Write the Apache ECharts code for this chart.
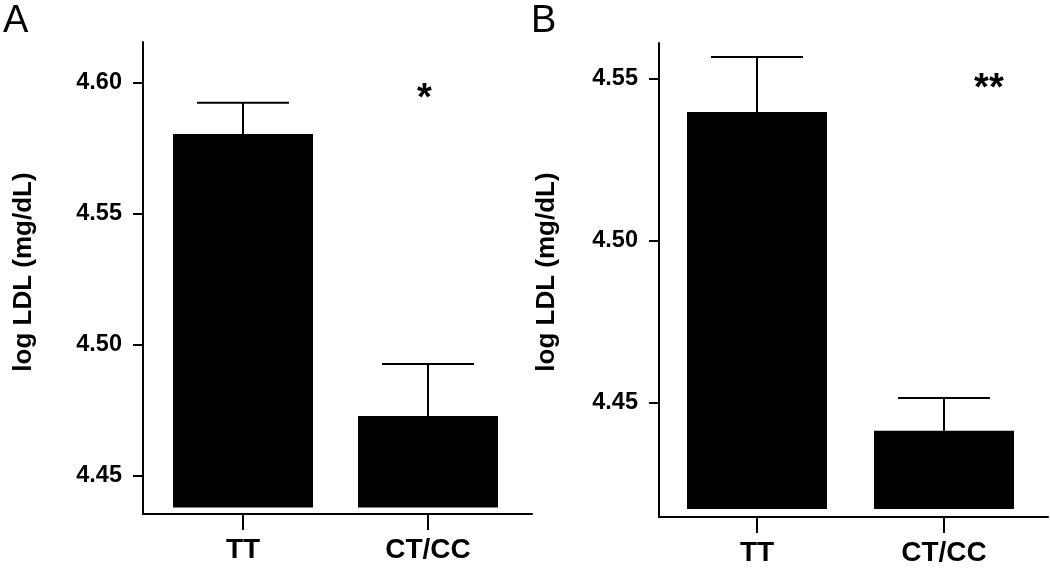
<!DOCTYPE html>
<html>
<head>
<meta charset="utf-8">
<script src="https://cdn.jsdelivr.net/npm/echarts@6/dist/echarts.min.js"></script>
<style>
html,body{margin:0;padding:0;background:#fff;}
#chart{width:1050px;height:568px;}
</style>
</head>
<body>
<div id="chart"></div>
<script>
// ---- data ----
const categories = ['TT', 'CT/CC'];
const panelTitles = ['A', 'B'];
const yAxisTitle = 'log LDL (mg/dL)';
// Panel A
const meanA = [4.5805, 4.4729];
const seA = [0.0119, 0.0198];
const baseA = 4.438;
const ticksA = [4.45, 4.50, 4.55, 4.60];
const rangeA = [4.4355, 4.6156];
const sigA = { text: '*', cat: 0.98, value: 4.5935 };
// Panel B
const meanB = [4.5398, 4.4414];
const seB = [0.0170, 0.0101];
const baseB = 4.4173;
const ticksB = [4.45, 4.50, 4.55];
const rangeB = [4.4148, 4.5611];
const sigB = { text: '**', cat: 1.24, value: 4.5466 };

const FONT = '"Liberation Sans", Arial, Helvetica, sans-serif';

function barItem(base) {
  return function (params, api) {
    const x = api.value(0), y = api.value(1), se = api.value(2);
    const pBase = api.coord([x, base]);
    const pTop = api.coord([x, y]);
    const pErr = api.coord([x, y + se]);
    const bw = 140, cw = 92;
    return {
      type: 'group',
      children: [
        { type: 'rect', shape: { x: pTop[0] - bw / 2, y: pTop[1], width: bw, height: pBase[1] - pTop[1] },
          style: { fill: '#000' } },
        { type: 'line', shape: { x1: pTop[0], y1: pTop[1], x2: pErr[0], y2: pErr[1] },
          style: { stroke: '#000', lineWidth: 2 } },
        { type: 'line', shape: { x1: pErr[0] - cw / 2, y1: pErr[1], x2: pErr[0] + cw / 2, y2: pErr[1] },
          style: { stroke: '#000', lineWidth: 2 } }
      ]
    };
  };
}

function starItem(params, api) {
  const p = api.coord([api.value(0), api.value(1)]);
  return {
    type: 'text', x: p[0], y: p[1],
    style: { text: api.value(2), font: 'bold 38px ' + FONT, fill: '#000', align: 'center', verticalAlign: 'middle' }
  };
}

function xAxisCfg(gridIndex, min, max) {
  return {
    type: 'value', gridIndex, min, max,
    axisLine: { show: true, onZero: false, lineStyle: { color: '#000', width: 2 } },
    axisTick: { show: true, length: 16, customValues: [0, 1], lineStyle: { color: '#000', width: 2 } },
    axisLabel: { customValues: [0, 1], margin: 22, color: '#000', fontFamily: FONT, fontWeight: 'bold', fontSize: 28,
      formatter: v => categories[Math.round(v)] },
    splitLine: { show: false }
  };
}

function yAxisCfg(gridIndex, range, ticks, gap, pad) {
  return {
    type: 'value', gridIndex, min: range[0], max: range[1],
    name: yAxisTitle, nameLocation: 'middle', nameGap: gap, nameRotate: 90,
    nameTextStyle: { color: '#000', fontFamily: FONT, fontWeight: 'bold', fontSize: 26, padding: pad },
    axisLine: { show: true, onZero: false, lineStyle: { color: '#000', width: 2 } },
    axisTick: { show: true, length: 10, customValues: ticks, lineStyle: { color: '#000', width: 2 } },
    axisLabel: { customValues: ticks, margin: 21, color: '#000', fontFamily: FONT, fontWeight: 'bold', fontSize: 23.5,
      formatter: v => v.toFixed(2) },
    splitLine: { show: false }
  };
}

const chart = echarts.init(document.getElementById('chart'), null, { renderer: 'canvas' });
chart.setOption({
  backgroundColor: '#fff',
  animation: false,
  title: [
    { text: panelTitles[0], left: 3, top: 3, padding: 0, textStyle: { fontFamily: FONT, fontWeight: 'normal', fontSize: 38, color: '#000' } },
    { text: panelTitles[1], left: 531, top: 3, padding: 0, textStyle: { fontFamily: FONT, fontWeight: 'normal', fontSize: 38, color: '#000' } }
  ],
  grid: [
    { left: 143, right: 518, top: 42, bottom: 54 },
    { left: 659, right: 2, top: 43, bottom: 51 }
  ],
  xAxis: [
    xAxisCfg(0, -0.5405, 1.562),
    xAxisCfg(1, -0.524, 1.556)
  ],
  yAxis: [
    yAxisCfg(0, rangeA, ticksA, 106, [0, 0, 0, 12]),
    yAxisCfg(1, rangeB, ticksB, 99, [0, 0, 0, 16])
  ],
  series: [
    { type: 'custom', xAxisIndex: 0, yAxisIndex: 0, clip: false, renderItem: barItem(baseA),
      data: categories.map((c, i) => [i, meanA[i], seA[i]]) },
    { type: 'custom', xAxisIndex: 1, yAxisIndex: 1, clip: false, renderItem: barItem(baseB),
      data: categories.map((c, i) => [i, meanB[i], seB[i]]) },
    { type: 'custom', xAxisIndex: 0, yAxisIndex: 0, clip: false, renderItem: starItem,
      dimensions: ['x', 'y', { name: 't', type: 'ordinal' }],
      data: [[sigA.cat, sigA.value, sigA.text]] },
    { type: 'custom', xAxisIndex: 1, yAxisIndex: 1, clip: false, renderItem: starItem,
      dimensions: ['x', 'y', { name: 't', type: 'ordinal' }],
      data: [[sigB.cat, sigB.value, sigB.text]] }
  ]
});
</script>
</body>
</html>
